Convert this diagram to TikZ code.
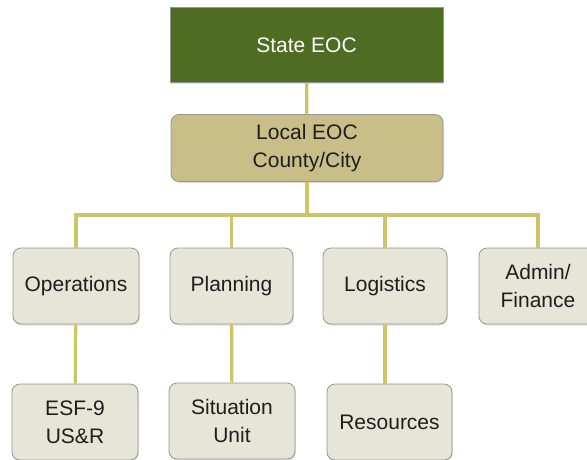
\documentclass[tikz,border=0pt]{standalone}
\usepackage{fontspec}
\setmainfont{Liberation Sans}
\usepackage{tikz}
\usetikzlibrary{shadows}
\definecolor{stategreen}{RGB}{79,108,35}
\definecolor{localtan}{RGB}{201,190,136}
\definecolor{unitbeige}{RGB}{231,229,215}
\definecolor{linkyellow}{RGB}{207,196,104}
\definecolor{boxedge}{RGB}{150,150,150}
\definecolor{textgray}{RGB}{30,30,30}

\begin{document}
\begin{tikzpicture}[x=1pt, y=-1pt,
        box/.style={draw=boxedge, line width=0.8pt, inner sep=0pt, align=center,
            font=\fontsize{21}{28}\selectfont, text=textgray,
            drop shadow={opacity=0.25, shadow xshift=0.8pt, shadow yshift=-1.5pt}},
        unit/.style={box, fill=unitbeige, rounded corners=8pt, minimum height=76pt},
        link/.style={draw=linkyellow, line width=3.2pt}]
            \useasboundingbox (0, 0) rectangle (587, 459);
            \node[box, fill=stategreen, text=white, minimum width=273pt, minimum height=75pt] (state) at (306.5, 45) {State EOC};
            \node[box, fill=localtan, rounded corners=8pt, minimum width=272pt, minimum height=67pt] (local) at (307, 148) {Local EOC\\County/City};
            \node[unit, minimum width=126pt] (ops) at (76, 286) {Operations};
            \node[unit, minimum width=123pt] (plan) at (231.5, 286) {Planning};
            \node[unit, minimum width=124pt] (logi) at (385, 286) {Logistics};
            \node[unit, minimum width=118pt] (admin) at (538, 286) {Admin/\\Finance};
            \node[unit, minimum width=126pt] (esf) at (75, 422) {ESF-9\\US\&R};
            \node[unit, minimum width=126pt] (sit) at (232, 421) {Situation\\Unit};
            \node[unit, minimum width=125pt] (res) at (389.5, 422) {Resources};
            \coordinate (bus) at (307, 215);
            \draw[link] (state) -- (local);
            \draw[link] (local) -- (bus);
            \draw[link] (ops.north) |- (bus) -| (admin.north);
            \draw[link] (plan.north) -- (plan.north |- bus);
            \draw[link] (logi.north) -- (logi.north |- bus);
            \draw[link] (ops) -- (esf);
            \draw[link] (plan) -- (sit);
            \draw[link] (logi.south) -- (logi.south |- res.north);
        \end{tikzpicture}
\end{document}
